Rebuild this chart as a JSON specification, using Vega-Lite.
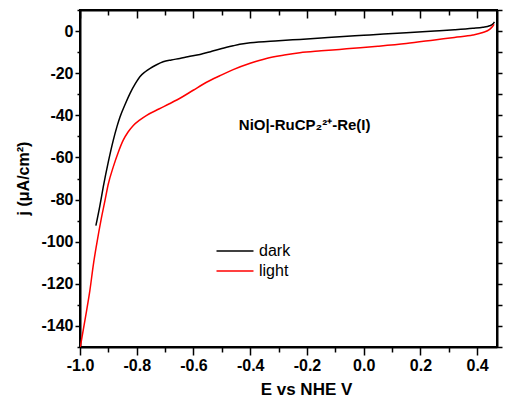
{
  "$schema": "https://vega.github.io/schema/vega-lite/v6.json",
  "width": 417,
  "height": 337,
  "autosize": {"type": "none"},
  "padding": {"left": 80, "top": 10, "right": 8, "bottom": 51},
  "background": "white",
  "config": {
    "view": {"stroke": "black", "strokeWidth": 2},
    "font": "Liberation Sans",
    "axis": {
      "grid": false,
      "domainColor": "black",
      "domainWidth": 2,
      "tickColor": "black",
      "tickWidth": 1.5,
      "labelColor": "black",
      "titleColor": "black",
      "labelFont": "Liberation Sans",
      "titleFont": "Liberation Sans",
      "labelFontWeight": "bold",
      "titleFontWeight": "bold",
      "labelFontSize": 16,
      "titleFontSize": 16,
      "labelOverlap": false,
      "labelFlush": false
    }
  },
  "data": {
    "values": [
      {"series": "dark", "E": -0.944, "j": -92.4},
      {"series": "dark", "E": -0.93, "j": -83},
      {"series": "dark", "E": -0.918, "j": -74},
      {"series": "dark", "E": -0.9, "j": -62},
      {"series": "dark", "E": -0.883, "j": -52},
      {"series": "dark", "E": -0.87, "j": -45.5},
      {"series": "dark", "E": -0.859, "j": -40.8},
      {"series": "dark", "E": -0.84, "j": -34.5},
      {"series": "dark", "E": -0.824, "j": -29.7},
      {"series": "dark", "E": -0.805, "j": -25},
      {"series": "dark", "E": -0.789, "j": -21.7},
      {"series": "dark", "E": -0.77, "j": -19.3},
      {"series": "dark", "E": -0.754, "j": -17.8},
      {"series": "dark", "E": -0.73, "j": -16},
      {"series": "dark", "E": -0.707, "j": -14.6},
      {"series": "dark", "E": -0.678, "j": -13.7},
      {"series": "dark", "E": -0.648, "j": -13.0},
      {"series": "dark", "E": -0.62, "j": -12.2},
      {"series": "dark", "E": -0.577, "j": -11.1},
      {"series": "dark", "E": -0.54, "j": -9.8},
      {"series": "dark", "E": -0.5, "j": -8.3},
      {"series": "dark", "E": -0.46, "j": -7.0},
      {"series": "dark", "E": -0.437, "j": -6.3},
      {"series": "dark", "E": -0.4, "j": -5.6},
      {"series": "dark", "E": -0.3, "j": -4.6},
      {"series": "dark", "E": -0.225, "j": -3.95},
      {"series": "dark", "E": -0.15, "j": -3.3},
      {"series": "dark", "E": -0.085, "j": -2.7},
      {"series": "dark", "E": 0.0, "j": -2.0},
      {"series": "dark", "E": 0.07, "j": -1.4},
      {"series": "dark", "E": 0.15, "j": -0.8},
      {"series": "dark", "E": 0.25, "j": 0.0},
      {"series": "dark", "E": 0.32, "j": 0.6},
      {"series": "dark", "E": 0.385, "j": 1.3},
      {"series": "dark", "E": 0.42, "j": 1.8},
      {"series": "dark", "E": 0.444, "j": 2.5},
      {"series": "dark", "E": 0.455, "j": 3.3},
      {"series": "dark", "E": 0.461, "j": 4.4},
      {"series": "light", "E": -0.999, "j": -150},
      {"series": "light", "E": -0.977, "j": -133},
      {"series": "light", "E": -0.965, "j": -123},
      {"series": "light", "E": -0.953, "j": -111},
      {"series": "light", "E": -0.941, "j": -101},
      {"series": "light", "E": -0.925, "j": -89},
      {"series": "light", "E": -0.912, "j": -80.5},
      {"series": "light", "E": -0.9, "j": -72.5},
      {"series": "light", "E": -0.883, "j": -64.6},
      {"series": "light", "E": -0.865, "j": -57.5},
      {"series": "light", "E": -0.848, "j": -51.9},
      {"series": "light", "E": -0.83, "j": -47.8},
      {"series": "light", "E": -0.812, "j": -44.8},
      {"series": "light", "E": -0.79, "j": -42.3},
      {"series": "light", "E": -0.765, "j": -40},
      {"series": "light", "E": -0.72, "j": -36.9},
      {"series": "light", "E": -0.683, "j": -34.4},
      {"series": "light", "E": -0.64, "j": -31.3},
      {"series": "light", "E": -0.601, "j": -28.1},
      {"series": "light", "E": -0.554, "j": -24.3},
      {"series": "light", "E": -0.507, "j": -21.2},
      {"series": "light", "E": -0.46, "j": -18.3},
      {"series": "light", "E": -0.4, "j": -15.3},
      {"series": "light", "E": -0.343, "j": -13.0},
      {"series": "light", "E": -0.28, "j": -11.4},
      {"series": "light", "E": -0.225, "j": -10.3},
      {"series": "light", "E": -0.15, "j": -9.4},
      {"series": "light", "E": -0.085, "j": -8.7},
      {"series": "light", "E": -0.049, "j": -8.3},
      {"series": "light", "E": 0.05, "j": -7.2},
      {"series": "light", "E": 0.15, "j": -5.9},
      {"series": "light", "E": 0.25, "j": -4.2},
      {"series": "light", "E": 0.32, "j": -3.0},
      {"series": "light", "E": 0.385, "j": -1.9},
      {"series": "light", "E": 0.42, "j": -0.7},
      {"series": "light", "E": 0.444, "j": 0.8},
      {"series": "light", "E": 0.455, "j": 2.3},
      {"series": "light", "E": 0.46, "j": 3.2}
    ]
  },
  "resolve": {"axis": {"x": "independent", "y": "independent"}},
  "layer": [
    {
      "mark": {"type": "line", "strokeWidth": 1.5, "interpolate": "monotone", "clip": true},
      "encoding": {
        "x": {
          "field": "E", "type": "quantitative",
          "scale": {"domain": [-1.0, 0.47], "nice": false, "zero": false},
          "axis": {
            "orient": "bottom",
            "values": [-1.0, -0.9, -0.8, -0.7, -0.6, -0.5, -0.4, -0.3, -0.2, -0.1, 0.0, 0.1, 0.2, 0.3, 0.4],
            "labelExpr": "abs(round(datum.value*10)) % 2 == 1 ? '' : (datum.value < -0.001 ? '-' + format(-datum.value, '.1f') : format(abs(datum.value), '.1f'))",
            "tickSize": {"condition": {"test": "abs(round(datum.value*10)) % 2 == 1", "value": 5}, "value": 8},
            "labelPadding": 2,
            "title": "E vs NHE V",
            "titleFontSize": 17,
            "titleBaseline": "alphabetic",
            "titleX": 226,
            "titleY": 47
          }
        },
        "y": {
          "field": "j", "type": "quantitative",
          "scale": {"domain": [-150, 10], "nice": false, "zero": false},
          "axis": {
            "orient": "left",
            "values": [-150, -140, -130, -120, -110, -100, -90, -80, -70, -60, -50, -40, -30, -20, -10, 0, 10],
            "labelExpr": "abs(round(datum.value)) % 20 == 10 ? '' : (datum.value < 0 ? '-' + format(-datum.value, 'd') : '0')",
            "tickSize": {"condition": {"test": "abs(round(datum.value)) % 20 == 10", "value": 3}, "value": 5},
            "labelPadding": 2,
            "title": "j (μA/cm²)",
            "titleAngle": 270,
            "titleBaseline": "middle",
            "titleX": -57,
            "titleY": 168
          }
        },
        "color": {
          "field": "series", "type": "nominal",
          "scale": {"domain": ["dark", "light"], "range": ["#000000", "#ff0000"]},
          "legend": {
            "orient": "none",
            "legendX": 145,
            "legendY": 231,
            "title": null,
            "symbolType": "M-2,0H2",
            "symbolSize": 342,
            "symbolStrokeWidth": 1.5,
            "labelFontSize": 16,
            "labelFont": "Liberation Sans",
            "labelColor": "black",
            "labelOffset": 14,
            "padding": 0,
            "rowPadding": 2
          }
        }
      }
    },
    {
      "mark": {"type": "line", "strokeOpacity": 0},
      "encoding": {
        "x": {
          "field": "E", "type": "quantitative",
          "scale": {"domain": [-1.0, 0.47], "nice": false, "zero": false},
          "axis": {
            "orient": "top",
            "values": [-1.0, -0.9, -0.8, -0.7, -0.6, -0.5, -0.4, -0.3, -0.2, -0.1, 0.0, 0.1, 0.2, 0.3, 0.4],
            "labels": false,
            "title": null,
            "tickSize": {"condition": {"test": "abs(round(datum.value*10)) % 2 == 1", "value": -5}, "value": -8}
          }
        },
        "y": {
          "field": "j", "type": "quantitative",
          "scale": {"domain": [-150, 10], "nice": false, "zero": false},
          "axis": {
            "orient": "right",
            "values": [-150, -140, -130, -120, -110, -100, -90, -80, -70, -60, -50, -40, -30, -20, -10, 0, 10],
            "labels": false,
            "title": null,
            "tickSize": 5
          }
        },
        "detail": {"field": "series", "type": "nominal"}
      }
    },
    {
      "data": {"values": [{}]},
      "mark": {"type": "text", "font": "Liberation Sans", "fontWeight": "bold", "fontSize": 15, "align": "center", "baseline": "middle", "fill": "black"},
      "encoding": {
        "x": {"datum": -0.208, "type": "quantitative", "axis": null},
        "y": {"datum": -44.8, "type": "quantitative", "axis": null},
        "text": {"value": "NiO|-RuCP₂²⁺-Re(I)"}
      }
    }
  ]
}
